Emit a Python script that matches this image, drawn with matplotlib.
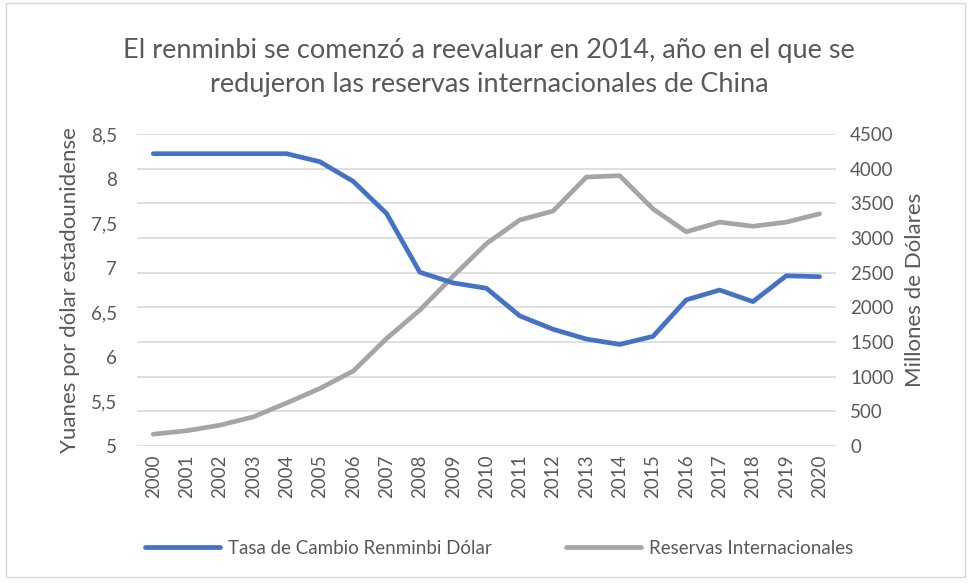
import matplotlib
matplotlib.use("Agg")
import matplotlib.pyplot as plt
from matplotlib.patches import Rectangle

plt.rcParams["font.family"] = ["Lato", "DejaVu Sans"]

years = [str(y) for y in range(2000, 2021)]
tasa = [8.28, 8.28, 8.28, 8.28, 8.28, 8.19, 7.97, 7.61, 6.95, 6.83, 6.77,
        6.46, 6.31, 6.20, 6.14, 6.23, 6.64, 6.75, 6.62, 6.91, 6.90]
reservas = [170, 220, 300, 420, 620, 830, 1080, 1550, 1960, 2450, 2920,
            3260, 3390, 3880, 3900, 3420, 3090, 3230, 3170, 3230, 3350]

left_ticks = [5, 5.5, 6, 6.5, 7, 7.5, 8, 8.5]
left_labels = ["5", "5,5", "6", "6,5", "7", "7,5", "8", "8,5"]
right_ticks = list(range(0, 4501, 500))

blue = "#4472C4"
gray = "#A5A5A5"
txt = "#595959"

fig = plt.figure(figsize=(9.69, 5.83), dpi=100)
fig.patches.append(Rectangle((0.006, 0.01), 0.99, 0.985, transform=fig.transFigure,
                             fill=False, edgecolor="#d9d9d9", lw=1))

ax1 = fig.add_axes([0.141, 0.235, 0.722, 0.535])
ax2 = ax1.twinx()

x = list(range(len(years)))
l1, = ax1.plot(x, tasa, color=blue, lw=3.4, solid_capstyle="round",
               label="Tasa de Cambio Renminbi Dólar", zorder=3)
l2, = ax2.plot(x, reservas, color=gray, lw=3.4, solid_capstyle="round",
               label="Reservas Internacionales")

ax1.set_zorder(ax2.get_zorder() + 1)
ax1.patch.set_visible(False)

ax1.set_xlim(-0.5, len(years) - 0.5)
ax1.set_ylim(5, 8.5)
ax2.set_ylim(0, 4500)
ax1.set_yticks(left_ticks)
ax1.set_yticklabels(left_labels)
ax2.set_yticks(right_ticks)
ax1.set_xticks(x)
ax1.set_xticklabels(years, rotation=90)

for a in (ax1, ax2):
    for s in a.spines.values():
        s.set_visible(False)
    a.tick_params(length=0, labelsize=13.5, labelcolor=txt)
ax1.tick_params(axis="y", pad=14)
ax2.tick_params(axis="y", pad=10)
ax1.tick_params(axis="x", pad=6)

ax2.grid(axis="y", color="#d9d9d9", lw=1.2)
ax2.set_axisbelow(True)

ax1.set_ylabel("Yuanes por dólar estadounidense", fontsize=16, color=txt, labelpad=8)
ax2.set_ylabel("Millones de Dólares", fontsize=16, color=txt, labelpad=8)

fig.text(0.505, 0.885,
         "El renminbi se comenzó a reevaluar en 2014, año en el que se\nredujeron las reservas internacionales de China",
         ha="center", va="center", fontsize=19.5, color=txt, linespacing=1.45)

fig.legend(handles=[l1, l2], loc="center", bbox_to_anchor=(0.515, 0.06), ncol=2,
           frameon=False, fontsize=13.5, labelcolor=txt, handlelength=4.0,
           columnspacing=4.0, handletextpad=0.4)

plt.savefig("out.png", dpi=100)
plt.close()
